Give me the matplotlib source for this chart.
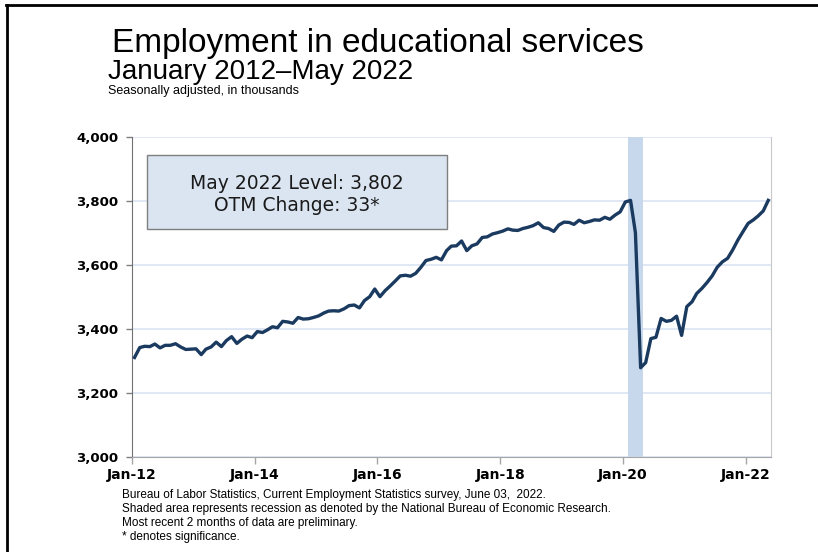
import numpy as np
import pandas as pd
import matplotlib
matplotlib.use("Agg")
from matplotlib import pyplot as plt
import matplotlib.dates as mdates

# educational services employment, seasonally adjusted, thousands
months = pd.date_range("2012-01-01", "2022-05-01", freq="MS")
employment = [
    3311, 3342, 3346, 3345, 3353, 3341, 3349, 3349, 3354, 3344, 3336, 3337,
    3338, 3320, 3337, 3344, 3359, 3345, 3364, 3376, 3355, 3368, 3378, 3373,
    3392, 3389, 3397, 3407, 3404, 3424, 3422, 3418, 3436, 3431, 3432, 3436,
    3441, 3450, 3456, 3457, 3456, 3463, 3473, 3475, 3466, 3489, 3501, 3525,
    3501, 3520, 3534, 3550, 3566, 3568, 3565, 3574, 3593, 3614, 3618, 3624,
    3616, 3645, 3659, 3660, 3675, 3645, 3660, 3666, 3686, 3688, 3697, 3701,
    3706, 3713, 3709, 3708, 3714, 3718, 3723, 3732, 3717, 3714, 3705, 3725,
    3734, 3733, 3727, 3740, 3732, 3736, 3741, 3740, 3749, 3743, 3756, 3766,
    3797, 3802, 3701, 3279, 3295, 3370, 3374, 3433, 3424, 3427, 3440, 3380,
    3470, 3485, 3511, 3527, 3545, 3566, 3593, 3610, 3621, 3647, 3678, 3704,
    3730, 3741, 3753, 3769, 3802,
]
recession = ("2020-02-01", "2020-05-01")
yticks = [3000, 3200, 3400, 3600, 3800, 4000]
box_text = "May 2022 Level: 3,802\nOTM Change: 33*"
notes = [
    "Bureau of Labor Statistics, Current Employment Statistics survey, June 03,  2022.",
    "Shaded area represents recession as denoted by the National Bureau of Economic Research.",
    "Most recent 2 months of data are preliminary.",
    "* denotes significance.",
]

fig = plt.figure(figsize=(8.18, 5.52), dpi=100)
ax = fig.add_axes([0.1614, 0.1721, 0.7811, 0.5797])

x = months + pd.Timedelta(days=15)
ax.axvspan(pd.Timestamp(recession[0]), pd.Timestamp(recession[1]), color="#c8d8ec", lw=0, zorder=1)
ax.plot(x, employment, color="#1b3a60", lw=2.4, solid_joinstyle="round", zorder=3)

ax.set_xlim(pd.Timestamp("2012-01-01"), pd.Timestamp("2022-06-01"))
ax.set_ylim(3000, 4000)
ax.set_yticks(yticks)
ax.set_yticklabels(["{:,}".format(v) for v in yticks], fontsize=9.5, fontweight="bold")
ax.xaxis.set_major_locator(mdates.YearLocator(2))
ax.xaxis.set_major_formatter(mdates.DateFormatter("Jan-%y"))
for lab in ax.get_xticklabels():
    lab.set_fontsize(10)
    lab.set_fontweight("bold")
ax.grid(axis="y", color="#d9e4f2", lw=1.2, zorder=0)
ax.set_axisbelow(True)
ax.tick_params(axis="y", length=4, width=1, color="#7f7f7f", pad=6)
ax.tick_params(axis="x", length=5, width=1, color="#a6a6a6", pad=3)
ax.spines["top"].set_visible(False)
ax.spines["left"].set_color("#707070")
ax.spines["bottom"].set_color("#a6a6a6")
ax.spines["right"].set_color("#c8c8c8")

# level / change box
ax.add_patch(plt.Rectangle((0.0235, 0.7125), 0.4695, 0.2315, transform=ax.transAxes,
                           fc="#dbe5f1", ec="#7f7f7f", lw=1, zorder=5))
ax.text(0.258, 0.82, box_text, transform=ax.transAxes, ha="center", va="center",
        fontsize=13.5, linespacing=1.2, color="#1a1a1a", zorder=6)

fig.text(0.137, 0.905, "Employment in educational services", fontsize=24,
         family="Liberation Sans", va="baseline")
fig.text(0.132, 0.857, "January 2012\u2013May 2022", fontsize=20,
         family="Liberation Sans", va="baseline")
fig.text(0.132, 0.829, "Seasonally adjusted, in thousands", fontsize=9,
         family="Liberation Sans", va="baseline")

for k, line in enumerate(notes):
    fig.text(0.149, 0.0985 - k * 0.0254, line, fontsize=8.5, family="Liberation Sans", va="baseline")

# page border on top and left
fig.add_artist(plt.Line2D([0.0075, 1.0], [0.9905, 0.9905], color="black", lw=2, transform=fig.transFigure))
fig.add_artist(plt.Line2D([0.0085, 0.0085], [0.0, 0.9905], color="black", lw=2, transform=fig.transFigure))

fig.savefig("out.png", dpi=100)
